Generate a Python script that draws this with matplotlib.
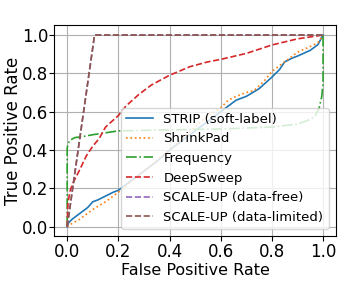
import numpy as np
import matplotlib
matplotlib.use("Agg")
import matplotlib.pyplot as plt

# ROC curves
strip_fpr = [0.0, 0.005, 0.02, 0.03, 0.05, 0.06, 0.08, 0.1, 0.12, 0.15, 0.18, 0.2, 0.25, 0.3, 0.35,
             0.4, 0.45, 0.5, 0.55, 0.6, 0.63, 0.66, 0.7, 0.75, 0.8, 0.83, 0.85, 0.88, 0.9, 0.95, 0.98, 1.0]
strip_tpr = [0.0, 0.02, 0.04, 0.05, 0.07, 0.08, 0.1, 0.13, 0.14, 0.16, 0.18, 0.19, 0.24, 0.29, 0.34,
             0.4, 0.45, 0.5, 0.55, 0.6, 0.63, 0.66, 0.68, 0.72, 0.78, 0.82, 0.86, 0.88, 0.89, 0.92, 0.95, 1.0]

shrink_fpr = [0.0, 0.01, 0.05, 0.1, 0.15, 0.2, 0.3, 0.4, 0.5, 0.55, 0.6, 0.63, 0.66, 0.7, 0.73,
              0.77, 0.8, 0.85, 0.9, 0.95, 0.98, 1.0]
shrink_tpr = [0.0, 0.01, 0.04, 0.09, 0.13, 0.18, 0.29, 0.4, 0.52, 0.58, 0.62, 0.66, 0.68, 0.7, 0.71,
              0.76, 0.81, 0.86, 0.91, 0.94, 0.96, 1.0]

freq_fpr = [0.0, 0.0, 0.003, 0.01, 0.03, 0.06, 0.1, 0.15, 0.2, 0.4, 0.6, 0.8, 0.9, 0.95, 0.97,
            0.985, 0.995, 1.0, 1.0]
freq_tpr = [0.0, 0.41, 0.43, 0.45, 0.465, 0.47, 0.48, 0.49, 0.5, 0.505, 0.51, 0.52, 0.535, 0.56, 0.58,
            0.62, 0.68, 0.75, 1.0]

sweep_fpr = [0.0, 0.003, 0.01, 0.02, 0.035, 0.05, 0.075, 0.1, 0.125, 0.15, 0.2, 0.23, 0.28, 0.33,
             0.4, 0.48, 0.55, 0.6, 0.7, 0.8, 0.9, 0.95, 1.0]
sweep_tpr = [0.0, 0.12, 0.18, 0.22, 0.26, 0.3, 0.37, 0.42, 0.46, 0.52, 0.58, 0.63, 0.69, 0.74,
             0.79, 0.835, 0.86, 0.873, 0.904, 0.948, 0.98, 0.99, 1.0]

scale_free_fpr = [0.0, 0.107, 1.0]
scale_free_tpr = [0.0, 1.0, 1.0]
scale_lim_fpr = [0.0, 0.107, 1.0]
scale_lim_tpr = [0.0, 1.0, 1.0]

fig = plt.figure(figsize=(3.42, 2.81), dpi=100)
ax = fig.add_axes([0.159, 0.159, 0.823, 0.7505])

lw = 1.2
ax.plot(strip_fpr, strip_tpr, color='tab:blue', ls='-', lw=lw, label='STRIP (soft-label)')
ax.plot(shrink_fpr, shrink_tpr, color='tab:orange', ls=':', lw=lw, label='ShrinkPad')
ax.plot(freq_fpr, freq_tpr, color='tab:green', ls='-.', lw=lw, label='Frequency')
ax.plot(sweep_fpr, sweep_tpr, color='tab:red', ls='--', lw=lw, label='DeepSweep')
ax.plot(scale_free_fpr, scale_free_tpr, color='tab:purple', ls='--', lw=lw, label='SCALE-UP (data-free)')
ax.plot(scale_lim_fpr, scale_lim_tpr, color='tab:brown', ls='--', lw=lw, label='SCALE-UP (data-limited)')

ax.set_xticks([0.0, 0.2, 0.4, 0.6, 0.8, 1.0])
ax.set_yticks([0.0, 0.2, 0.4, 0.6, 0.8, 1.0])
ax.tick_params(labelsize=12, length=3.5)
ax.tick_params(axis='x', pad=1.5)
ax.tick_params(axis='y', pad=1)
ax.set_xlabel('False Positive Rate', fontsize=11.5, labelpad=1)
ax.set_ylabel('True Positive Rate', fontsize=12, labelpad=0)
ax.grid(True)
ax.legend(loc='lower right', fontsize=9.5, labelspacing=0.5, borderaxespad=0.55)

fig.savefig('out.png', dpi=100)
